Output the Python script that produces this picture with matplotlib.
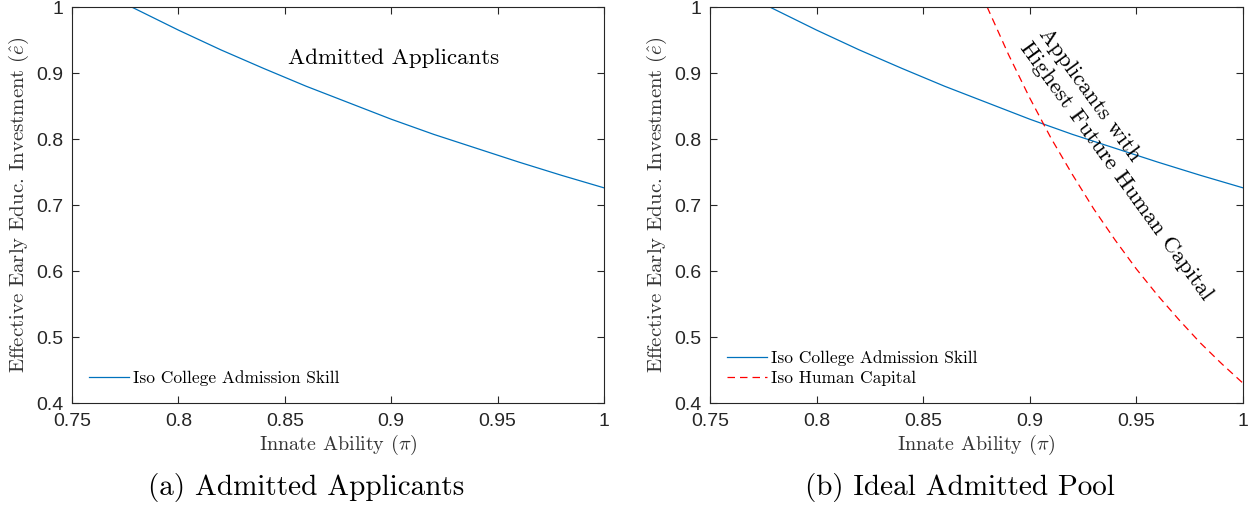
import numpy as np
import matplotlib
matplotlib.use('Agg')
import matplotlib.pyplot as plt

# values
ability_skill = [0.778, 0.80, 0.82, 0.84, 0.86, 0.88, 0.90, 0.92, 0.94, 0.96, 0.98, 1.00]
iso_skill = [1.000, 0.965, 0.935, 0.907, 0.880, 0.855, 0.830, 0.807, 0.786, 0.765, 0.745, 0.726]

ability_hc = [0.880, 0.89, 0.90, 0.91, 0.92, 0.93, 0.94, 0.95, 0.96, 0.97, 0.98, 0.99, 1.00]
iso_hc = [1.000, 0.928, 0.862, 0.801, 0.746, 0.694, 0.647, 0.603, 0.563, 0.526, 0.491, 0.4595, 0.430]

x_ticks = [0.75, 0.80, 0.85, 0.90, 0.95, 1.00]
x_tick_labels = ['0.75', '0.8', '0.85', '0.9', '0.95', '1']
y_ticks = [0.4, 0.5, 0.6, 0.7, 0.8, 0.9, 1.0]
y_tick_labels = ['0.4', '0.5', '0.6', '0.7', '0.8', '0.9', '1']

captions = ['(a) Admitted Applicants', '(b) Ideal Admitted Pool']

plt.rcParams['mathtext.fontset'] = 'cm'
plt.rcParams['axes.unicode_minus'] = False

SERIF = 'cmr10'
SANS = 'Liberation Sans'
EDGE = '#262626'
BLUE = '#0072BD'


def style_axes(ax):
    ax.set_xlim(0.75, 1.0)
    ax.set_ylim(0.4, 1.0)
    ax.set_xticks(x_ticks)
    ax.set_xticklabels(x_tick_labels, fontname=SANS, fontsize=14, color=EDGE)
    ax.set_yticks(y_ticks)
    ax.set_yticklabels(y_tick_labels, fontname=SANS, fontsize=14, color=EDGE)
    ax.tick_params(axis='both', direction='in', length=5, width=0.8, color=EDGE,
                   top=True, right=True)
    ax.tick_params(axis='x', pad=7)
    ax.tick_params(axis='y', pad=6)
    for spine in ax.spines.values():
        spine.set_color(EDGE)
        spine.set_linewidth(0.8)
    ax.set_xlabel(r'Innate Ability ($\pi$)', fontname=SERIF, fontsize=14.5,
                  color='#333333', labelpad=2)
    ax.set_ylabel(r'Effective Early Educ. Investment ($\hat{e}$)', fontname=SERIF,
                  fontsize=15, color='#333333', labelpad=4)


fig = plt.figure(figsize=(12.55, 5.12), dpi=100)
ax1 = fig.add_axes([72 / 1255, 109 / 512, 532 / 1255, 396 / 512])
ax2 = fig.add_axes([710 / 1255, 109 / 512, 533 / 1255, 396 / 512])

# (a) admitted applicants
ax1.plot(ability_skill, iso_skill, color=BLUE, lw=0.9, label='Iso College Admission Skill')
ax1.text(0.901, 0.923, 'Admitted Applicants', fontname=SERIF, fontsize=16.5,
         ha='center', va='center')
style_axes(ax1)
ax1.legend(loc='lower left', frameon=False, prop={'family': SERIF, 'size': 12.5},
           handlelength=2.3, handletextpad=0.2, borderaxespad=0.6)

# (b) ideal admitted pool
ax2.plot(ability_skill, iso_skill, color=BLUE, lw=0.9, label='Iso College Admission Skill')
ax2.plot(ability_hc, iso_hc, color='red', lw=0.9, ls=(0, (6, 4)), label='Iso Human Capital')
ax2.text(0.945, 0.762, 'Applicants with\nHighest Future Human Capital', fontname=SERIF,
         fontsize=16.5, rotation=-54, rotation_mode='anchor', ha='center', va='center',
         multialignment='left', linespacing=1.3)
style_axes(ax2)
ax2.legend(loc='lower left', frameon=False, prop={'family': SERIF, 'size': 12.5},
           handlelength=2.3, handletextpad=0.2, borderaxespad=0.6, labelspacing=0.25)

fig.text(306 / 1255, 1 - 488 / 512, captions[0], fontname=SERIF, fontsize=21,
         ha='center', va='center')
fig.text(960 / 1255, 1 - 488 / 512, captions[1], fontname=SERIF, fontsize=21,
         ha='center', va='center')

fig.savefig('out.png', dpi=100)
